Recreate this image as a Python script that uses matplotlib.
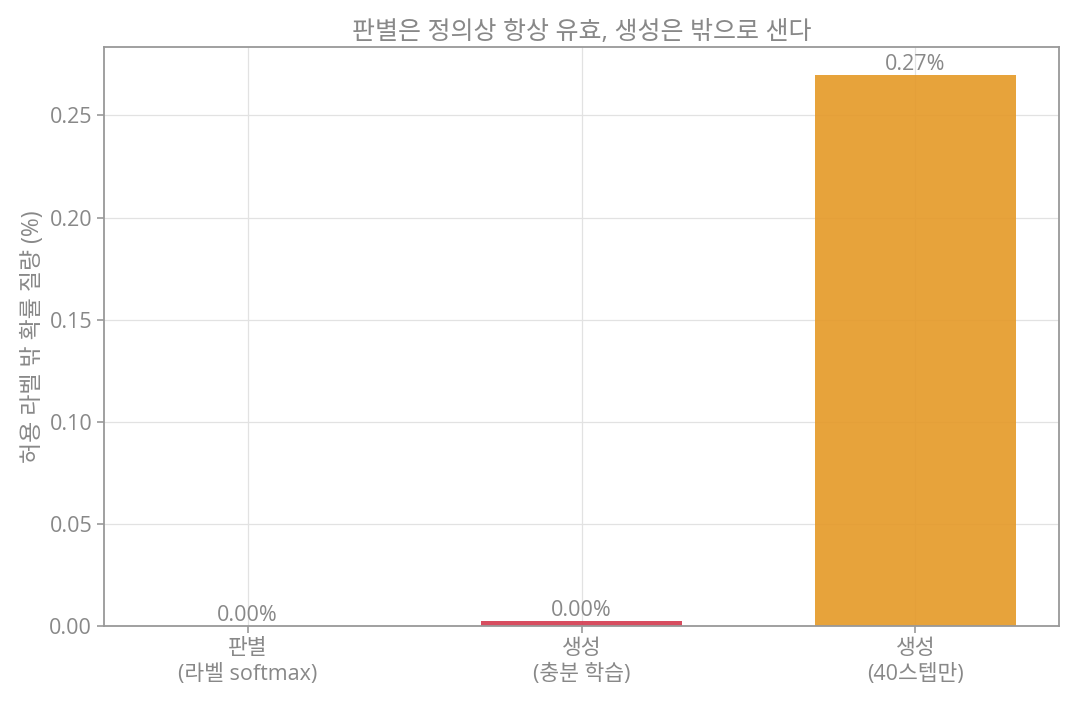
import matplotlib
matplotlib.use("Agg")
import matplotlib.pyplot as plt

plt.rcParams['font.family'] = ['Open Sans', 'Noto Sans CJK KR', 'DejaVu Sans']

categories = ["판별\n(라벨 softmax)", "생성\n(충분 학습)", "생성\n(40스텝만)"]
values = [0.0, 0.0025, 0.27]
labels = ["0.00%", "0.00%", "0.27%"]
colors = ["#4C72B0", "#D33A4E", "#E59926"]

title = "판별은 정의상 항상 유효, 생성은 밖으로 샌다"
ylabel = "허용 라벨 밖 확률 질량 (%)"

txt = "#888888"
fig = plt.figure(figsize=(10.74, 7.06), dpi=100)
ax = fig.add_axes([104/1074, 1-626/706, (1059-104)/1074, (626-47)/706])
x = list(range(len(categories)))
ax.bar(x, values, width=0.6, color=colors, alpha=0.9, zorder=2)
for xi, v, lab in zip(x, values, labels):
    ax.text(xi, v, lab, ha="center", va="bottom", color=txt, fontsize=15.5, zorder=3)
ax.set_xticks(x)
ax.set_xticklabels(categories, linespacing=1.3)
ax.set_title(title, color=txt, fontsize=18, pad=6)
ax.set_ylabel(ylabel, color=txt, fontsize=16.5, labelpad=3)
ax.grid(True, color="#e2e2e2", linewidth=0.9, zorder=0)
ax.set_axisbelow(True)
ax.tick_params(colors="#999999", labelsize=15.5, labelcolor=txt, length=5, width=1.2)
for s in ax.spines.values():
    s.set_color("#999999")
    s.set_linewidth(1.3)
ax.set_yticks([0, 0.05, 0.10, 0.15, 0.20, 0.25])
ax.set_yticklabels(["0.00", "0.05", "0.10", "0.15", "0.20", "0.25"])
fig.savefig("out.png", dpi=100)
